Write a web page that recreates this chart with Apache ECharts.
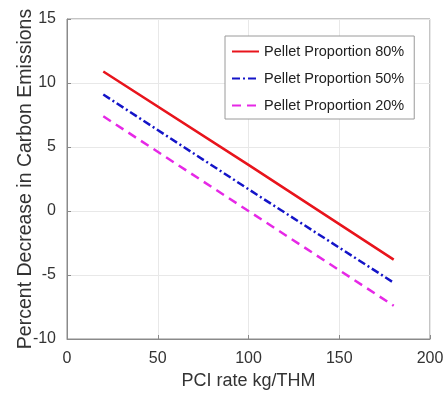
<!DOCTYPE html>
<html>
<head>
<meta charset="utf-8">
<script src="https://cdn.jsdelivr.net/npm/echarts@6/dist/echarts.min.js"></script>
<style>html,body{margin:0;padding:0;background:#fff}#c{width:445px;height:396px}</style>
</head>
<body>
<div id="c"></div>
<script>
const pciRate = [20, 100, 180];
const pellet80 = [10.9, 3.6, -3.8];
const pellet50 = [9.1, 1.7, -5.6];
const pellet20 = [7.4, 0.0, -7.4];
const seriesNames = ['Pellet Proportion 80%', 'Pellet Proportion 50%', 'Pellet Proportion 20%'];
const xTicks = [0, 50, 100, 150, 200];
const yTicks = [-10, -5, 0, 5, 10, 15];

const font = '"Liberation Sans", Arial, sans-serif';
const pairs = (xs, ys) => xs.map((x, i) => [x, ys[i]]);

const chart = echarts.init(document.getElementById('c'), null, {renderer: 'canvas'});
chart.setOption({
  animation: false,
  textStyle: {fontFamily: font},
  grid: {left: 67, right: 15, top: 19, bottom: 57, show: true, borderColor: '#8a8a8a', borderWidth: 1,
         outerBoundsMode: 'none', containLabel: false},
  legend: {
    orient: 'vertical', left: 225, top: 36,
    padding: [8, 10, 6, 6], itemGap: 12, itemWidth: 27, itemHeight: 14,
    backgroundColor: '#fff', borderColor: '#9a9a9a', borderWidth: 1,
    itemStyle: {opacity: 0},
    textStyle: {fontFamily: font, fontSize: 14.5, color: '#222'},
    data: seriesNames
  },
  xAxis: {
    type: 'value', min: xTicks[0], max: xTicks[xTicks.length - 1], interval: 50,
    name: 'PCI rate kg/THM', nameLocation: 'middle', nameGap: 32,
    nameTextStyle: {fontFamily: font, fontSize: 18, color: '#333'},
    axisLine: {show: true, onZero: false, lineStyle: {color: '#8a8a8a'}},
    axisTick: {show: true, inside: true, length: 4, lineStyle: {color: '#8a8a8a'}},
    axisLabel: {fontFamily: font, fontSize: 16, color: '#333', margin: 12},
    splitLine: {show: true, lineStyle: {color: '#e8e8e8'}}
  },
  yAxis: {
    type: 'value', min: yTicks[0], max: yTicks[yTicks.length - 1], interval: 5,
    name: 'Percent Decrease in Carbon Emissions', nameLocation: 'middle', nameGap: 31,
    nameMoveOverlap: false,
    nameTextStyle: {fontFamily: font, fontSize: 19.5, color: '#333'},
    axisLine: {show: true, onZero: false, lineStyle: {color: '#8a8a8a'}},
    axisTick: {show: true, inside: true, length: 4, lineStyle: {color: '#8a8a8a'}},
    axisLabel: {fontFamily: font, fontSize: 16, color: '#333', margin: 11},
    splitLine: {show: true, lineStyle: {color: '#e8e8e8'}}
  },
  series: [
    {name: seriesNames[0], type: 'line', data: pairs(pciRate, pellet80), symbol: 'none', showSymbol: false,
     lineStyle: {color: '#e8141c', width: 2.5, type: 'solid'}, itemStyle: {color: '#e8141c'}},
    {name: seriesNames[1], type: 'line', data: pairs(pciRate, pellet50), symbol: 'none', showSymbol: false,
     lineStyle: {color: '#1414c8', width: 2.5, type: [8, 3, 2, 3]}, itemStyle: {color: '#1414c8'}},
    {name: seriesNames[2], type: 'line', data: pairs(pciRate, pellet20), symbol: 'none', showSymbol: false,
     lineStyle: {color: '#e628e6', width: 2.5, type: [9, 6]}, itemStyle: {color: '#e628e6'}}
  ]
});
</script>
</body>
</html>
